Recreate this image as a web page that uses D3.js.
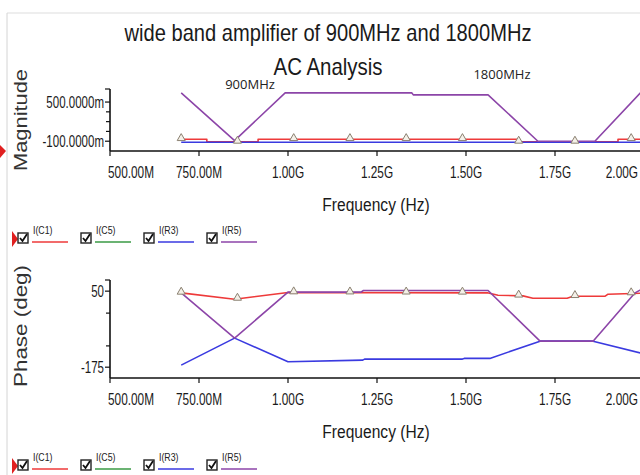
<!DOCTYPE html>
<html>
<head>
<meta charset="utf-8">
<title>wide band amplifier AC Analysis</title>
<style>
    html, body { margin: 0; padding: 0; background: #fff; }
    svg { display: block; }
    .tick-lbl { font-family: "Liberation Sans", Arial, sans-serif; font-size: 16px; fill: #1a1a1a; }
    .axis-title { font-family: "Liberation Sans", Arial, sans-serif; font-size: 19px; fill: #1a1a1a; }
    .ytitle { font-family: "Liberation Sans", Arial, sans-serif; font-size: 18px; fill: #333; }
    .note { font-family: "Open Sans", "Noto Sans", sans-serif; font-size: 13px; fill: #222; }
    .leg { font-family: "Liberation Sans", Arial, sans-serif; font-size: 11px; fill: #222; }
</style>
</head>
<body>
<svg id="chart" width="640" height="475"></svg>
<script src="https://cdn.jsdelivr.net/npm/d3@7"></script>
<script>
// x values in MHz
var xTicks = [500, 750, 1000, 1250, 1500, 1750, 2000];
var xTickLabels = ["500.00M", "750.00M", "1.00G", "1.25G", "1.50G", "1.75G", "2.00G"];

// magnitude (milli units)
var magTicks = [500, -100];
var magTickLabels = ["500.0000m", "-100.0000m"];
var magMinor = [350, 200, 50];

var magC1F = [700, 772, 772, 916, 916, 1643, 1643, 1927, 1927, 2100];
var magC1V = [-70, -70, -110, -110, -70, -70, -110, -110, -70, -70];
var magR3F = [700, 2100];
var magR3V = [-115, -115];
var magR5F = [700, 850, 992, 1348, 1352, 1562, 1702, 1862, 1990];
var magR5V = [640, -90, 640, 640, 610, 610, -100, -100, 640];

// phase (deg)
var phTicks = [50, -175];
var phMinor = [-15, -112];

var phC1F = [700, 850, 1000, 1560, 1590, 1660, 1688, 1784, 1801, 1891, 1899, 1990, 2100];
var phC1V = [45, 26, 46, 45, 38, 36, 29, 29, 35, 35, 41, 44, 44];
var phR3F = [700, 850, 1000, 1210, 1215, 1490, 1495, 1567, 1708, 1857, 1990, 2100];
var phR3V = [-169, -89, -159, -154, -151, -151, -149, -149, -98, -98, -133, -140];
var phR5F = [700, 850, 1000, 1205, 1212, 1562, 1708, 1857, 1975, 2000];
var phR5V = [45, -89, 47, 47, 52, 52, -98, -98, 45, 60];

// symbol markers placed along I(C1)
var markerF = [700, 858, 1016, 1174, 1332, 1490, 1648, 1806, 1964];

var legendNames = ["I(C1)", "I(C5)", "I(R3)", "I(R5)"];
var legendColors = ["#ee3a3a", "#3a9a45", "#3a3ae0", "#8c45a8"];

var svg = d3.select("#chart");

var x = d3.scaleLinear().domain([500, 2000]).range([110, 644]);

// narrow text: squeeze horizontally with a transform
function ntext(parent, px, py, anchor, cls, str, k) {
    return parent.append("text").attr("class", cls)
        .attr("transform", "translate(" + px + "," + py + ") scale(" + k + ",1)")
        .attr("text-anchor", anchor).text(str);
}

// frame lines at the top and left
svg.append("line").attr("x1", 7).attr("x2", 640).attr("y1", 13).attr("y2", 13)
    .attr("stroke", "#ddd").attr("stroke-width", 1);
svg.append("line").attr("x1", 7).attr("x2", 7).attr("y1", 13).attr("y2", 475)
    .attr("stroke", "#d4d4d4").attr("stroke-width", 1);

// titles
svg.append("text").attr("x", 328).attr("y", 41).attr("text-anchor", "middle")
    .attr("class", "axis-title").style("font-size", "24px")
    .attr("textLength", 407).attr("lengthAdjust", "spacingAndGlyphs")
    .text("wide band amplifier of 900MHz and 1800MHz");
svg.append("text").attr("x", 328).attr("y", 75).attr("text-anchor", "middle")
    .attr("class", "axis-title").style("font-size", "24px")
    .attr("textLength", 109).attr("lengthAdjust", "spacingAndGlyphs")
    .text("AC Analysis");

function drawPlot(cfg) {
    var y = d3.scaleLinear().domain(cfg.domain).range([cfg.bottom, cfg.top]);
    var g = svg.append("g");

    // x axis
    g.append("line").attr("x1", 110).attr("x2", 640).attr("y1", cfg.bottom).attr("y2", cfg.bottom)
        .attr("stroke", "#111").attr("stroke-width", 1.6);
    xTicks.forEach(function(t, i) {
        g.append("line").attr("x1", x(t)).attr("x2", x(t)).attr("y1", cfg.bottom).attr("y2", cfg.bottom + 5)
            .attr("stroke", "#111").attr("stroke-width", 1.2);
        var ty = cfg.bottom + 27;
        if (i == 0) ntext(g, x(t) - 2, ty, "start", "tick-lbl", xTickLabels[i], 0.74);
        else if (i == xTicks.length - 1) ntext(g, 638, ty, "end", "tick-lbl", xTickLabels[i], 0.74);
        else ntext(g, x(t), ty, "middle", "tick-lbl", xTickLabels[i], 0.74);
    });
    ntext(g, 376, cfg.bottom + 60, "middle", "axis-title", "Frequency (Hz)", 0.82);

    // y axis
    g.append("line").attr("x1", 110).attr("x2", 110).attr("y1", cfg.top).attr("y2", cfg.bottom)
        .attr("stroke", "#111").attr("stroke-width", 1.6);
    cfg.ticks.forEach(function(t, i) {
        g.append("line").attr("x1", 105).attr("x2", 110).attr("y1", y(t)).attr("y2", y(t))
            .attr("stroke", "#111").attr("stroke-width", 1.2);
        ntext(g, 104, y(t) + 6, "end", "tick-lbl", cfg.tickLabels[i], 0.72);
    });
    cfg.minor.forEach(function(t) {
        g.append("line").attr("x1", 106).attr("x2", 110).attr("y1", y(t)).attr("y2", y(t))
            .attr("stroke", "#111").attr("stroke-width", 1.2);
    });
    g.append("line").attr("x1", 105).attr("x2", 110).attr("y1", cfg.top).attr("y2", cfg.top)
        .attr("stroke", "#111").attr("stroke-width", 1.2);

    // y title
    g.append("text").attr("class", "ytitle")
        .attr("transform", "translate(27," + cfg.titleY + ") rotate(-90)")
        .attr("text-anchor", "middle")
        .attr("textLength", cfg.titleLen).attr("lengthAdjust", "spacingAndGlyphs")
        .text(cfg.title);

    // traces
    var line = d3.line().x(function(d) { return x(d[0]); }).y(function(d) { return y(d[1]); });
    cfg.series.forEach(function(s) {
        var pts = d3.zip(s.f, s.v);
        g.append("path").datum(pts).attr("d", line)
            .attr("fill", "none").attr("stroke", s.color).attr("stroke-width", 1.6)
            .attr("stroke-linejoin", "round");
    });

    // triangle markers on first trace
    var s0 = cfg.series[0];
    var interp = function(f) {
        var i = d3.bisectRight(s0.f, f);
        if (i <= 0) return s0.v[0];
        if (i >= s0.f.length) return s0.v[s0.v.length - 1];
        var f0 = s0.f[i - 1], f1 = s0.f[i];
        var t = f1 == f0 ? 1 : (f - f0) / (f1 - f0);
        return s0.v[i - 1] + t * (s0.v[i] - s0.v[i - 1]);
    };
    g.selectAll(".mk").data(markerF).enter().append("path")
        .attr("d", d3.symbol().type(d3.symbolTriangle).size(28))
        .attr("transform", function(f) { return "translate(" + x(f) + "," + (y(interp(f)) - 1) + ")"; })
        .attr("fill", "#f4f0e8").attr("stroke", "#8a8070").attr("stroke-width", 1);

    // legend
    var ly = cfg.bottom + 88;
    svg.append("path").attr("d", "M12," + (ly - 8) + "L18," + ly + "L12," + (ly + 8) + "Z")
        .attr("fill", "#e02020");
    legendNames.forEach(function(n, i) {
        var lx = 18 + i * 63;
        svg.append("rect").attr("x", lx).attr("y", ly - 6).attr("width", 10).attr("height", 10)
            .attr("fill", "#fff").attr("stroke", "#222").attr("stroke-width", 1.4);
        svg.append("path").attr("d", "M" + (lx + 2) + "," + (ly - 1) + "L" + (lx + 4.5) + "," + (ly + 2) + "L" + (lx + 9) + "," + (ly - 5))
            .attr("fill", "none").attr("stroke", "#111").attr("stroke-width", 1.8);
        ntext(svg, lx + 15, ly - 5, "start", "leg", n, 0.8);
        svg.append("line").attr("x1", lx + 14).attr("x2", lx + 50).attr("y1", ly + 3).attr("y2", ly + 3)
            .attr("stroke", legendColors[i]).attr("stroke-width", 1.5);
    });
}

drawPlot({
    domain: [-250, 700], top: 89, bottom: 151,
    ticks: magTicks, tickLabels: magTickLabels, minor: magMinor,
    title: "Magnitude", titleY: 120, titleLen: 102,
    series: [
        { f: magC1F, v: magC1V, color: legendColors[0] },
        { f: magR3F, v: magR3V, color: legendColors[2] },
        { f: magR5F, v: magR5V, color: legendColors[3] }
    ]
});

drawPlot({
    domain: [-207, 83], top: 280, bottom: 378,
    ticks: phTicks, tickLabels: ["50", "-175"], minor: phMinor,
    title: "Phase (deg)", titleY: 326, titleLen: 122,
    series: [
        { f: phC1F, v: phC1V, color: legendColors[0] },
        { f: phR3F, v: phR3V, color: legendColors[2] },
        { f: phR5F, v: phR5V, color: legendColors[3] }
    ]
});

// red pointer next to the upper y title
svg.append("path").attr("d", "M0,145L6,151L0,158Z").attr("fill", "#e02020");

// band notes
svg.append("text").attr("class", "note").attr("x", 250).attr("y", 89).attr("text-anchor", "middle").text("900MHz");
svg.append("text").attr("class", "note").attr("x", 502).attr("y", 79).attr("text-anchor", "middle").text("1800MHz");
</script>
</body>
</html>
